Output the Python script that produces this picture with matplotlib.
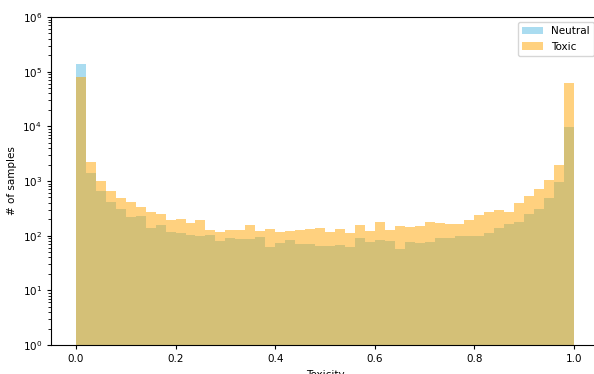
import numpy as np
import matplotlib
matplotlib.use("Agg")
import matplotlib.pyplot as plt

bin_edges = np.linspace(0, 1, 51)

neutral_counts = [137000, 1400, 650, 420, 310, 220, 230, 140, 160, 115,
                  110, 105, 98, 105, 80, 90, 88, 88, 95, 62,
                  72, 85, 70, 70, 65, 65, 68, 62, 90, 78,
                  82, 80, 58, 78, 72, 75, 90, 92, 100, 100,
                  100, 110, 140, 165, 175, 250, 310, 480, 950, 9800]

toxic_counts = [80000, 2200, 1000, 650, 480, 420, 330, 270, 250, 195,
                205, 170, 190, 125, 115, 125, 125, 160, 120, 135,
                115, 120, 125, 130, 140, 115, 135, 110, 155, 120,
                175, 125, 150, 145, 150, 180, 170, 165, 165, 195,
                240, 270, 300, 270, 400, 530, 700, 1050, 2000, 63000]

series_labels = ["Neutral", "Toxic"]

centers = (bin_edges[:-1] + bin_edges[1:]) / 2

plt.rcParams["font.size"] = 7.5

fig = plt.figure(figsize=(5.94, 3.74), dpi=100)
ax = fig.add_axes([51/594, 29/374, 548/594, 328/374])

ax.hist(centers, bins=bin_edges, weights=neutral_counts, color="skyblue",
        alpha=0.7, label=series_labels[0])
ax.hist(centers, bins=bin_edges, weights=toxic_counts, color="orange",
        alpha=0.5, label=series_labels[1])

ax.set_yscale("log")
ax.set_ylim(1, 1e6)
ax.set_xlim(-0.05, 1.05)
ax.set_xticks([0.0, 0.2, 0.4, 0.6, 0.8, 1.0])
ax.tick_params(labelsize=7.5, length=3)
ax.set_xlabel("Toxicity", fontsize=7.5)
ax.set_ylabel("# of samples", fontsize=7.5)
ax.legend(loc="upper right", fontsize=7.5)

fig.savefig("out.png", dpi=100)
